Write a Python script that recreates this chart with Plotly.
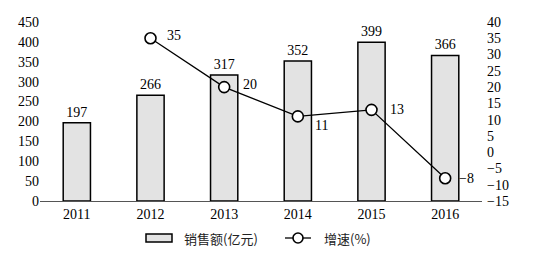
import plotly.graph_objects as go

years = ["2011", "2012", "2013", "2014", "2015", "2016"]
sales = [197, 266, 317, 352, 399, 366]
growth_years = ["2012", "2013", "2014", "2015", "2016"]
growth = [35, 20, 11, 13, -8]
growth_label_yshift = [3, 3, -9, 0, 0]
growth_label_xshift = [14, 17, 15, 16, 12]
legend_names = ["销售额(亿元)", "增速(%)"]

FONT = "Liberation Serif, Noto Sans CJK SC, serif"
CJK = "Noto Sans CJK SC, sans-serif"

# plot area in pixels: x 40..482, y 22..201
L, R, T, B = 40, 63, 22, 53
W, H = 545, 254
PW, PH = W - L - R, H - T - B


def px(xp):
    return (xp - L) / PW


def py(yp):
    return (H - B - yp) / PH


fig = go.Figure()
fig.add_trace(go.Bar(
    x=years, y=sales, name=legend_names[0],
    marker=dict(color="#e3e3e3", line=dict(color="black", width=1.5)),
    width=0.37,
    text=[str(v) for v in sales], textposition="outside",
    textfont=dict(family=FONT, size=14, color="black"),
    cliponaxis=False,
))
fig.add_trace(go.Scatter(
    x=growth_years, y=growth, name=legend_names[1], xaxis="x", yaxis="y2",
    mode="lines+markers",
    line=dict(color="black", width=1.3),
    marker=dict(symbol="circle", size=11, color="white", line=dict(color="black", width=1.6)),
    cliponaxis=False,
))

annotations = []
for xv, yv, xs, ys in zip(growth_years, growth, growth_label_xshift, growth_label_yshift):
    annotations.append(dict(
        x=years.index(xv), y=yv, xref="x", yref="y2", text=str(yv).replace("-", "\u2212"),
        showarrow=False, xanchor="left", yanchor="middle", xshift=xs, yshift=ys,
        font=dict(family=FONT, size=14, color="black"),
    ))

# custom legend
ly = 238
annotations.append(dict(x=px(182), y=py(ly), xref="paper", yref="paper", text=legend_names[0],
                        showarrow=False, xanchor="left", yanchor="middle",
                        font=dict(family=CJK, size=13, color="#222")))
annotations.append(dict(x=px(322), y=py(ly), xref="paper", yref="paper", text=legend_names[1],
                        showarrow=False, xanchor="left", yanchor="middle",
                        font=dict(family=CJK, size=13, color="#222")))
shapes = [
    dict(type="rect", xref="paper", yref="paper", x0=px(146), x1=px(172), y0=py(242), y1=py(234),
         fillcolor="#e3e3e3", line=dict(color="black", width=1.5)),
    dict(type="line", xref="paper", yref="paper", x0=px(285), x1=px(311), y0=py(ly), y1=py(ly),
         line=dict(color="black", width=1.3)),
    dict(type="circle", xref="paper", yref="paper", x0=px(293), x1=px(303), y0=py(243), y1=py(233),
         fillcolor="white", line=dict(color="black", width=1.6)),
]

fig.update_layout(
    width=W, height=H,
    margin=dict(l=L, r=R, t=T, b=B, autoexpand=False),
    paper_bgcolor="white", plot_bgcolor="white",
    font=dict(family=FONT, size=14, color="black"),
    showlegend=False,
    annotations=annotations,
    shapes=shapes,
    xaxis=dict(type="category", categoryorder="array", categoryarray=years, range=[-0.5, 5.5],
               showgrid=False, showline=True, linecolor="#555", linewidth=1,
               ticks="", tickfont=dict(family=FONT, size=14)),
    yaxis=dict(range=[0, 450], dtick=50, showgrid=False, showline=False, zeroline=False,
               ticks="", tickfont=dict(family=FONT, size=14)),
    yaxis2=dict(range=[-15, 40], dtick=5, overlaying="y", side="right", anchor="x", showgrid=False,
                showline=False, zeroline=False, ticks="", ticklabelstandoff=4,
                tickfont=dict(family=FONT, size=14)),
)

fig.write_html("out.html")
